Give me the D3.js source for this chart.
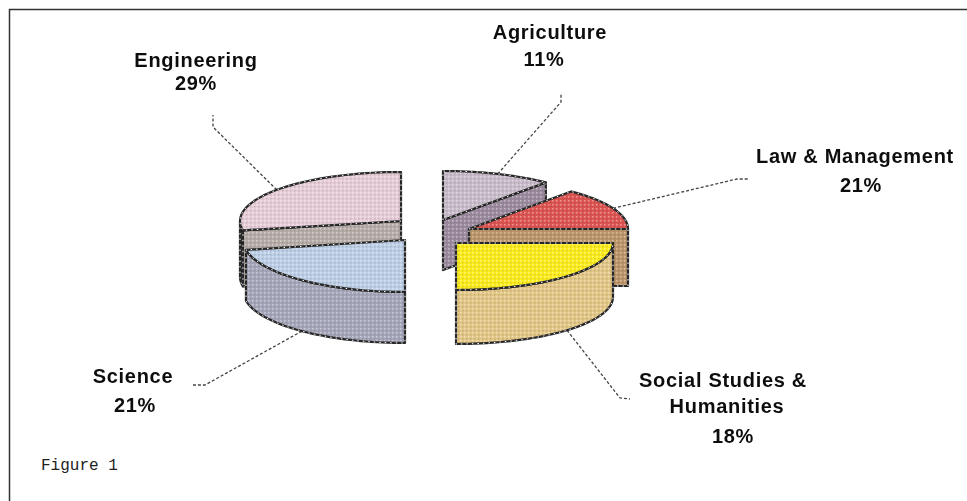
<!DOCTYPE html>
<html>
<head>
<meta charset="utf-8">
<script src="https://cdn.jsdelivr.net/npm/d3@7"></script>
<style>
  html, body { margin: 0; padding: 0; background: #fff; }
  svg { display: block; }
  .lbl { font-family: "Liberation Sans", Arial, sans-serif; font-weight: bold; font-size: 20px; letter-spacing: 0.7px; fill: #111; text-anchor: middle; }
  .fig { font-family: "Liberation Mono", monospace; font-size: 16px; fill: #222; }
</style>
</head>
<body>
<div id="chart"></div>
<script>
// data
var categories = ["Agriculture", "Law & Management", "Social Studies & Humanities", "Science", "Engineering"];
var percents = [11, 21, 18, 21, 29];
// the slices in the picture are not drawn to their labels, so the sweep (degrees) is read off separately
var sweeps = [40, 50, 90, 79, 101];

var topColors = ["#c9bcca", "#dc5250", "#fdec1c", "#bccfe6", "#e6cdd8"];
var wallColors = ["#9b8a9e", "#bb9468", "#e2c685", "#a5a6ba", "#b6aca8"];
var rimColors = ["#9b8a9e", "#bb9468", "#e2c685", "#a5a6ba", "#1c1c1c"];

// layout of each exploded slice
var cx = [443, 469, 456, 405, 401],
    cy = [220, 229, 243, 240, 221],
    rx = [160, 159, 157, 162, 161],
    ry = [49, 49, 47, 52, 49],
    depth = [50, 57, 54, 51, 56];

var w = 967, h = 501;
var drawOrder = [4, 0, 1, 3, 2];

// label layout: line text, centre x, baseline y
var labelLines = [
  [["Agriculture", 550, 39], ["11%", 544, 66]],
  [["Law & Management", 855, 163], ["21%", 861, 192]],
  [["Social Studies &", 723, 387], ["Humanities", 727, 413], ["18%", 733, 443]],
  [["Science", 133, 383], ["21%", 135, 412]],
  [["Engineering", 196, 67], ["29%", 196, 90]]
];
// leader lines run from the rim (mid angle of slice) through these two points
var leaderEnds = [
  [[561, 102], [561, 93]],
  [[737, 179], [748, 179]],
  [[620, 398], [630, 399]],
  [[205, 385], [193, 385]],
  [[213, 127], [213, 115]]
];

var svg = d3.select("#chart").append("svg")
    .attr("width", w)
    .attr("height", h)
    .style("background-color", "white");

var defs = svg.append("defs");
defs.append("filter").attr("id", "soft")
    .append("feGaussianBlur").attr("stdDeviation", 0.45);

// dither left over from the scan of the original
var dither = defs.append("pattern")
    .attr("id", "dither")
    .attr("width", 4).attr("height", 4)
    .attr("patternUnits", "userSpaceOnUse");
dither.append("rect").attr("x", 0).attr("y", 0).attr("width", 1.5).attr("height", 1.5).attr("fill", "#fff").attr("opacity", 0.4);
dither.append("rect").attr("x", 2).attr("y", 2).attr("width", 1.5).attr("height", 1.5).attr("fill", "#444").attr("opacity", 0.2);

// frame, only top and left are in the picture
svg.append("path")
    .attr("d", d3.line()([[9.5, h], [9.5, 9.5], [w, 9.5]]))
    .attr("fill", "none")
    .attr("stroke", "#333")
    .attr("stroke-width", 1.5);

var pie = d3.pie().sort(null).value(function(d) { return d; });
var slices = pie(sweeps);

var line = d3.line();

function rim(i, a, dy) {
    return [cx[i] + rx[i] * Math.sin(a), cy[i] - ry[i] * Math.cos(a) + (dy || 0)];
}

function sweep(a0, a1) {
    return d3.range(0, 41).map(function(k) { return a0 + (a1 - a0) * k / 40; });
}

function addFace(g, d, fill) {
    g.append("path").attr("d", d).attr("fill", fill);
    g.append("path").attr("d", d).attr("fill", "url(#dither)");
    g.append("path").attr("d", d).attr("fill", "none")
        .attr("stroke", "#262626").attr("stroke-width", 2.2)
        .attr("stroke-linejoin", "round");
    g.append("path").attr("d", d).attr("fill", "none")
        .attr("stroke", "#fff").attr("stroke-width", 1)
        .attr("stroke-dasharray", "1.5 4");
}

var chart = svg.append("g").attr("filter", "url(#soft)");

// leaders first, the slices sit on top of their ends
slices.forEach(function(s, i) {
    var mid = (s.startAngle + s.endAngle) / 2;
    var onFront = Math.cos(mid) < 0;
    var start = rim(i, mid, onFront ? depth[i] : 0);
    chart.append("path")
        .attr("d", line([start].concat(leaderEnds[i])))
        .attr("fill", "none")
        .attr("stroke", "#444")
        .attr("stroke-width", 1.3)
        .attr("stroke-dasharray", "3 2");
});

drawOrder.forEach(function(i) {
    var s = slices[i];
    var g = chart.append("g").attr("class", "slice");

    // cut faces
    var cuts = [];
    if (s.endAngle < Math.PI) cuts.push(s.endAngle);
    if (s.startAngle > Math.PI) cuts.push(s.startAngle);
    cuts.forEach(function(a) {
        addFace(g, line([
            [cx[i], cy[i]], rim(i, a), rim(i, a, depth[i]), [cx[i], cy[i] + depth[i]]
        ]) + "Z", wallColors[i]);
    });

    // outer wall, front half only
    var a0 = Math.max(s.startAngle, Math.PI / 2),
        a1 = Math.min(s.endAngle, Math.PI * 1.5);
    if (a1 > a0) {
        var angles = sweep(a0, a1);
        var upper = angles.map(function(a) { return rim(i, a); });
        var lower = angles.slice().reverse().map(function(a) { return rim(i, a, depth[i]); });
        addFace(g, line(upper.concat(lower)) + "Z", rimColors[i]);
    }

    // top face
    var edge = sweep(s.startAngle, s.endAngle).map(function(a) { return rim(i, a); });
    addFace(g, line([[cx[i], cy[i]]].concat(edge)) + "Z", topColors[i]);
});

// labels
categories.forEach(function(c, i) {
    labelLines[i].forEach(function(l) {
        chart.append("text")
            .attr("class", "lbl")
            .attr("x", l[1])
            .attr("y", l[2])
            .text(l[0]);
    });
});

svg.append("text")
    .attr("class", "fig")
    .attr("x", 41)
    .attr("y", 470)
    .text("Figure 1");
</script>
</body>
</html>
